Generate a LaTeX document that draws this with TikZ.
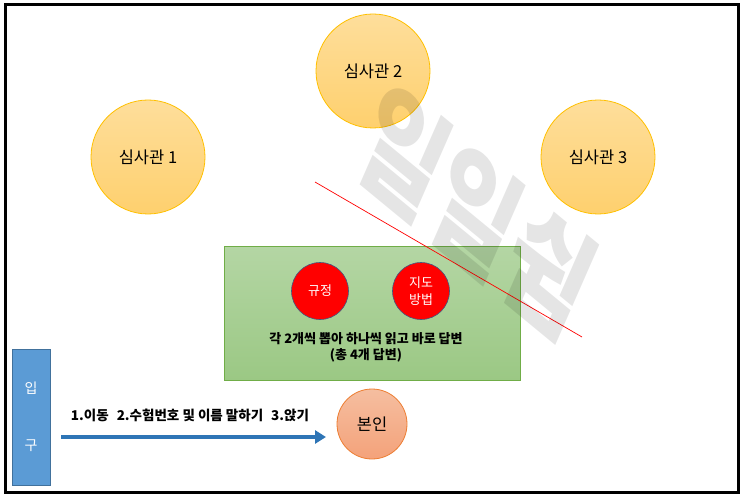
\documentclass[tikz,border=0pt]{standalone}
\usepackage{fontspec}
\setmainfont{Noto Sans CJK KR}
\usepackage{xcolor}
\usepackage{tikz}
\usetikzlibrary{calc,positioning,arrows.meta,shapes.geometric}

\definecolor{judgeTop}{RGB}{254,222,155}
\definecolor{judgeBot}{RGB}{254,208,110}
\definecolor{judgeLine}{RGB}{255,192,0}
\definecolor{deskTop}{RGB}{180,214,164}
\definecolor{deskBot}{RGB}{155,200,132}
\definecolor{deskLine}{RGB}{112,173,71}
\definecolor{cardLine}{RGB}{65,90,130}
\definecolor{doorFill}{RGB}{91,155,213}
\definecolor{doorLine}{RGB}{65,113,156}
\definecolor{flowBlue}{RGB}{46,117,182}
\definecolor{meTop}{RGB}{245,190,160}
\definecolor{meBot}{RGB}{244,162,122}
\definecolor{meLine}{RGB}{237,125,49}

\begin{document}
\begin{tikzpicture}[x=1pt, y=-1pt,
  judge/.style={circle, minimum size=114pt, inner sep=0pt, draw=judgeLine, line width=0.8pt,
    top color=judgeTop, bottom color=judgeBot, font=\fontsize{16.5}{19}\selectfont},
  card/.style={circle, minimum size=57pt, inner sep=0pt, draw=cardLine, line width=0.6pt,
    fill=red, text=white, align=center, font=\fontsize{13}{17}\selectfont},
  desk/.style={rectangle, minimum width=296pt, minimum height=134pt, draw=deskLine,
    line width=0.8pt, top color=deskTop, bottom color=deskBot},
  flow/.style={-{Triangle[length=11pt, width=13pt]}, line width=3.5pt, flowBlue}]
\useasboundingbox (0,0) rectangle (743,497);
% frame of the room
\draw[line width=3pt] (5,5) rectangle (738,492);
% three judges
\foreach \i/\x/\y in {1/148/157, 2/373/71, 3/598/157}{
  \node[judge] (judge\i) at (\x,\y) {심사관 \i};
}
% the desk with the two cards
\node[desk] (desk) at (372,313) {};
\node[card] (rule) at (320,291) {규정};
\node[card] (guide) at (421,291) {지도\\방법};
\node[align=center, font=\bfseries\fontsize{13}{16}\selectfont] (task) at (366,347)
  {각 2개씩 뽑아 하나씩 읽고 바로 답변\\(총 4개 답변)};
% entrance
\node[rectangle, minimum width=38pt, minimum height=136pt, fill=doorFill, draw=doorLine,
  line width=0.6pt] (door) at (31,417) {};
\node[text=white, font=\fontsize{14}{16}\selectfont] (doorA) at (31,388) {입};
\node[text=white, font=\fontsize{14}{16}\selectfont] (doorB) at (31,446) {구};
% the examinee
\node[circle, minimum size=70pt, inner sep=0pt, draw=meLine, line width=0.8pt,
  top color=meTop, bottom color=meBot, font=\fontsize{16.5}{19}\selectfont] (me) at (372,424) {본인};
\coordinate (walkS) at (61,437);
\coordinate (walkE) at (326,437);
\draw[flow] (walkS) -- (walkE);
\node[font=\bfseries\fontsize{13.5}{16}\selectfont] (steps) at (190,415)
  {1.이동\hspace{8pt}2.수험번호 및 이름 말하기\hspace{8pt}3.앉기};
% red cut line
\coordinate (cutA) at (315,182);
\coordinate (cutB) at (582,337);
\draw[red, line width=0.7pt] (cutA) -- (cutB);
% watermark
\node[text=black, opacity=0.1, yscale=1.37, rotate=-31, font=\bfseries\fontsize{92}{92}\selectfont]
  (mark) at (476,212) {일일쉼};
\end{tikzpicture}
\end{document}
